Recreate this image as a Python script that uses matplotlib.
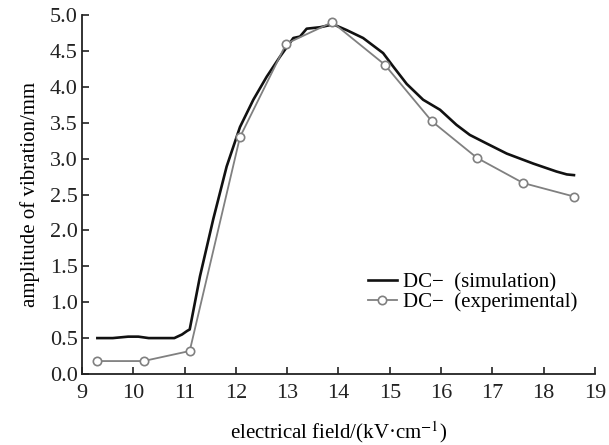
import matplotlib
matplotlib.use("Agg")
import matplotlib.pyplot as plt

sim_x = [9.3, 9.6, 9.9, 10.1, 10.3, 10.5, 10.8, 10.95, 11.05, 11.1, 11.3, 11.56, 11.82, 12.08, 12.34,
         12.6, 12.86, 13.12, 13.25, 13.38, 13.64, 13.9, 14.16, 14.48, 14.87, 15.07, 15.33,
         15.65, 15.98, 16.3, 16.56, 16.89, 17.28, 17.8, 18.25, 18.45, 18.59]
sim_y = [0.50, 0.50, 0.52, 0.52, 0.50, 0.50, 0.50, 0.55, 0.60, 0.62, 1.36, 2.16, 2.89, 3.44, 3.82,
         4.14, 4.42, 4.68, 4.70, 4.81, 4.83, 4.87, 4.79, 4.68, 4.47, 4.28, 4.04,
         3.82, 3.68, 3.47, 3.33, 3.21, 3.07, 2.93, 2.82, 2.78, 2.77]

exp_x = [9.3, 10.2, 11.1, 12.08, 12.98, 13.88, 14.9, 15.82, 16.7, 17.6, 18.6]
exp_y = [0.18, 0.18, 0.32, 3.30, 4.60, 4.90, 4.31, 3.52, 3.01, 2.66, 2.47]

xticks = list(range(9, 20))
yticks = [0.0, 0.5, 1.0, 1.5, 2.0, 2.5, 3.0, 3.5, 4.0, 4.5, 5.0]

plt.rcParams['font.family'] = ['Liberation Serif', 'DejaVu Serif']
plt.rcParams['mathtext.fontset'] = 'stix'

fig = plt.figure(figsize=(6.09, 4.45), dpi=100)
ax = fig.add_axes([0.1346, 0.1596, 0.8424, 0.8066])

ax.plot(sim_x, sim_y, color='#111111', lw=1.9, label='DC\u2212  (simulation)', zorder=3)
ax.plot(exp_x, exp_y, color='#808080', lw=1.3, marker='o', markersize=6,
        markerfacecolor='white', markeredgecolor='#808080', markeredgewidth=1.2,
        label='DC\u2212  (experimental)', zorder=4)

ax.set_xlim(9, 19)
ax.set_ylim(0, 5.0)
ax.set_xticks(xticks)
ax.set_xticklabels([str(t) for t in xticks])
ax.set_yticks(yticks)
ax.set_yticklabels([f"{t:.1f}" for t in yticks])

for s in ['top', 'right']:
    ax.spines[s].set_visible(False)
for s in ['left', 'bottom']:
    ax.spines[s].set_linewidth(1.3)
    ax.spines[s].set_color('#222222')

ax.tick_params(direction='in', length=5, width=1.2, labelsize=16, colors='#222222')
ax.tick_params(axis='x', pad=7)
ax.tick_params(axis='y', pad=3)

ax.set_xlabel('electrical field/(kV\u00b7cm$^{-1}$)', fontsize=15, labelpad=12)
ax.set_ylabel('amplitude of vibration/mm', fontsize=15, labelpad=7)

leg = ax.legend(loc='lower right', bbox_to_anchor=(0.966, 0.172), frameon=False, fontsize=15,
                handlelength=1.4, handletextpad=0.3, labelspacing=0.0, borderaxespad=0,
                borderpad=0)

fig.savefig('out.png', dpi=100)
